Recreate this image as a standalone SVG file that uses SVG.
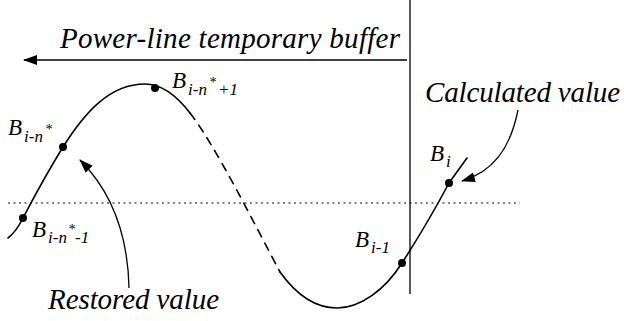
<svg xmlns="http://www.w3.org/2000/svg" width="624" height="321" viewBox="0 0 624 321">
<defs>
<marker id="ah" viewBox="0 0 14 10" refX="13" refY="5" markerWidth="14" markerHeight="10" markerUnits="userSpaceOnUse" orient="auto">
<path d="M0,0 L14,5 L0,10 Z" fill="#000"/>
</marker>
</defs>
<rect width="624" height="321" fill="#fff"/>
<g id="connectors" fill="none" stroke="#000">
<line stroke-width="1.3" x1="410" y1="0" x2="410" y2="294"/>
<line stroke-width="1.3" x1="407" y1="60" x2="24" y2="60" marker-end="url(#ah)"/>
<line x1="8" y1="203" x2="520" y2="203" stroke-width="1.2" stroke-dasharray="2 3.5"/>
<path stroke-width="1.6" stroke-linecap="round" d="M8 238 Q16 232 23 218 C35 195 50 168 63 147 C85 112 110 84 145 84 C165 84 180 100 190 113"/>
<path stroke-width="1.6" stroke-linecap="round" d="M190 113 C215 145 255 225 280 272" stroke-dasharray="8 7"/>
<path stroke-width="1.6" stroke-linecap="round" d="M280 272 C300 300 320 308 337 308 C360 308 385 290 402 263 C420 235 440 200 449 183 L467 158"/>
<path stroke-width="1.3" d="M129 288 C128 240 115 195 80 160" marker-end="url(#ah)"/>
<path stroke-width="1.3" d="M518 110 C510 150 492 172 462 181" marker-end="url(#ah)"/>
</g>
<g id="title"><text x="60" y="48" font-family="Liberation Serif" font-style="italic" font-size="29" textLength="340">Power-line temporary buffer</text></g>
<g id="calc"><text x="425" y="102" font-family="Liberation Serif" font-style="italic" font-size="29" textLength="195">Calculated value</text></g>
<g id="restored"><text x="48" y="309" font-family="Liberation Serif" font-style="italic" font-size="29" textLength="171">Restored value</text></g>
<g id="p1"><circle cx="23" cy="218" r="4"/>
<text x="32" y="237" font-family="Liberation Serif" font-style="italic" font-size="23">B</text><text x="48" y="243" font-family="Liberation Serif" font-style="italic" font-size="17">i-n</text><text x="68" y="234" font-family="Liberation Serif" font-style="italic" font-size="14">*</text><text x="75" y="243" font-family="Liberation Serif" font-style="italic" font-size="17">-1</text></g>
<g id="p2"><circle cx="63" cy="147" r="4"/>
<text x="8" y="135" font-family="Liberation Serif" font-style="italic" font-size="23">B</text><text x="24" y="142" font-family="Liberation Serif" font-style="italic" font-size="17">i-n</text><text x="45" y="134" font-family="Liberation Serif" font-style="italic" font-size="14">*</text></g>
<g id="p3"><circle cx="155" cy="88" r="4"/>
<text x="172" y="88" font-family="Liberation Serif" font-style="italic" font-size="23">B</text><text x="188" y="95" font-family="Liberation Serif" font-style="italic" font-size="17">i-n</text><text x="209" y="87" font-family="Liberation Serif" font-style="italic" font-size="14">*</text><text x="218" y="95" font-family="Liberation Serif" font-style="italic" font-size="17">+1</text></g>
<g id="p4"><circle cx="402" cy="263" r="4"/>
<text x="355" y="247" font-family="Liberation Serif" font-style="italic" font-size="23">B</text><text x="371" y="253" font-family="Liberation Serif" font-style="italic" font-size="17">i-1</text></g>
<g id="p5"><circle cx="449" cy="183" r="4"/>
<text x="430" y="161" font-family="Liberation Serif" font-style="italic" font-size="23">B</text><text x="446" y="167" font-family="Liberation Serif" font-style="italic" font-size="17">i</text></g>
</svg>
